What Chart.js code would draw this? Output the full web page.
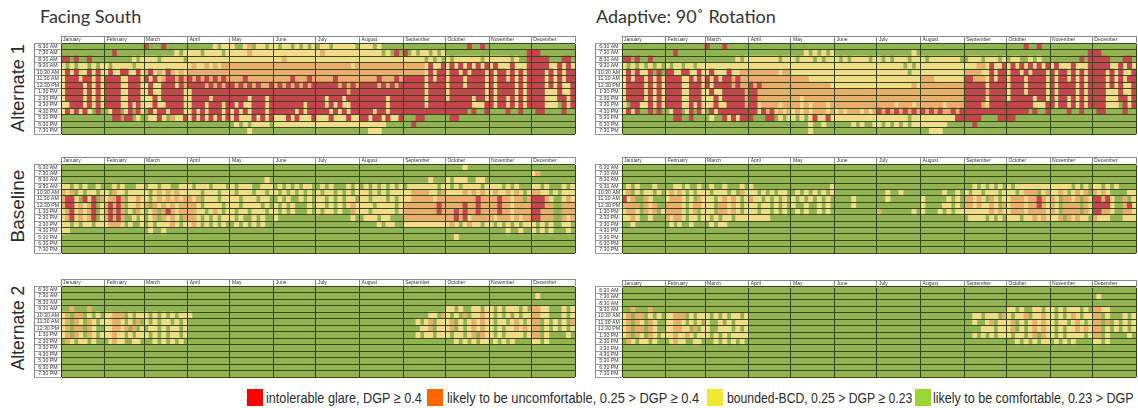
<!DOCTYPE html>
<html><head><meta charset="utf-8">
<style>
html,body{margin:0;padding:0;background:#fff;width:1138px;height:408px;overflow:hidden}
canvas{position:absolute;filter:blur(0.7px)}
.t{position:absolute;color:#333;white-space:nowrap;font-family:"Lato",sans-serif}
.title{font-size:18px;top:6px;line-height:20px}
.side{font-family:"Liberation Sans",Arial,sans-serif;line-height:20px;transform:translate(-50%,-50%) rotate(-90deg);color:#2a2a2a}
.sw{position:absolute;top:389px;width:16px;height:17px}
.leg{position:absolute;top:388px;line-height:19px;font-family:"Liberation Sans",sans-serif;font-size:15.5px;color:#2c2c2c;white-space:nowrap;transform-origin:left center}
</style></head><body>
<div class="t title" style="left:40px">Facing South</div>
<div class="t title" style="left:596px">Adaptive: 90˚ Rotation</div>
<div class="t side" style="left:18px;top:88px;font-size:18.2px">Alternate 1</div>
<div class="t side" style="left:18px;top:206px;font-size:19px">Baseline</div>
<div class="t side" style="left:18px;top:328px;font-size:17.5px">Alternate 2</div>
<div class="sw" style="left:247px;background:#ff0000"></div>
<div class="leg" data-w="156" style="left:266px">intolerable glare, DGP ≥ 0.4</div>
<div class="sw" style="left:427px;background:#ff6600"></div>
<div class="leg" data-w="252" style="left:447px">likely to be uncomfortable, 0.25 &gt; DGP ≥ 0.4</div>
<div class="sw" style="left:707px;background:#f0e832"></div>
<div class="leg" data-w="185" style="left:727px">bounded-BCD, 0.25 &gt; DGP ≥ 0.23</div>
<div class="sw" style="left:915px;background:#99d633"></div>
<div class="leg" data-w="201" style="left:933px">likely to be comfortable, 0.23 &gt; DGP</div>
<script src="https://cdn.jsdelivr.net/npm/chart.js@4/dist/chart.umd.min.js"></script>
<script>
const hours = ["6:30 AM","7:30 AM","8:30 AM","9:30 AM","10:30 AM","11:30 AM","12:30 PM","1:30 PM","2:30 PM","3:30 PM","4:30 PM","5:30 PM","6:30 PM","7:30 PM"];
const months = ["January","February","March","April","May","June","July","August","September","October","November","December"];
const monthStarts = [0,31,59,90,120,151,181,212,243,273,304,334,365];
const classNames = ["likely comfortable","bounded-BCD","likely uncomfortable","intolerable glare"];
const classColors = ["#92b351","#f3dc86","#e9ae6c","#c5444d"];
// Each row: one 10-cell group per month; "-" is a month with no glare. 0 comfortable, 1 bounded, 2 uncomfortable, 3 intolerable.
const alt1South = [
"- - 3000300000 0000001011 1001201101 1011010101 0110111110 1110100000 - 0000030030 - -",
"- 0030000000 0000000101 1110111101 1111211111 1111111111 1211111111 1111101030 3010110101 - 0000000003 3300000000",
"3303003000 0000000101 1110111110 1111111111 1111111111 1121111111 1111111111 1111111111 1111101010 1011111101 1111101003 3333000330",
"1010110101 1011111011 1111111111 1211212122 2222222222 2222222222 2222222212 2222222222 2222213113 1313131313 1311131113 3333113131",
"1313113131 1311331131 2312132121 2222222222 2222222222 2222222222 2222222222 2222222222 2222213133 1331313331 3133131313 3331313133",
"1333133131 3333113331 3131233232 3232323232 2223222222 2222322232 2222322222 2222322232 3333313133 1333133331 3133131313 3331313133",
"1333313131 3333113331 1311333132 3333232323 3232323223 2323232323 3333323232 3333232323 3333313333 1333133331 3133331313 3331313113",
"1333313131 3333113331 1311333331 1333333333 3333333333 3333333333 3333333233 3333333333 3333313333 1333333331 3133331313 3331113113",
"1333313131 3333113331 1131333331 1333313333 3333133313 3333333333 3313331333 3333331333 3333313333 1333331331 3133131313 3331113313",
"1133313131 3333113131 1131133331 1333133313 3131133313 3333333133 3313131133 3333331333 3333313333 3333331113 3133131313 3331110313",
"1313131030 0133013031 0313313331 1313133313 1313133313 3333313133 3331313133 3331331333 3333333333 3333303003 0000300300 0330000300",
"- 0033033010 0113102113 1313131313 1311131313 1113131113 1113111311 3313313113 0003300000 0330000000 - -",
"- - - - 0101011110 1111111111 1111111111 1111110000 0030000000 - - -",
"- - - - 0000100000 - - 0011100000 - - - -"];
const alt1Adaptive = [
"- - 3000300000 - - - - - - 0000300300 - -",
"- 0030000000 - - 0001010101 - 0000000010 - - - 0000000003 3300000000",
"3303003000 - 0000000101 1111111011 1011101011 1010111101 1010111011 1011111110 0111011101 0110010100 0000000303 3333000330",
"1010101010 1011011011 1111111111 1111111111 1111111111 1111111111 1111110101 1111111111 1112213113 1313131313 1311131113 3333113131",
"1313113030 3311331131 1311131122 2222222122 1111111111 1111111111 1111111011 1111111111 2222113133 1331313331 3133131313 3331313113",
"1313313131 3333113131 3131332322 2222222222 2222111111 1111111111 1111111111 2221111111 3322213133 1333133331 3133131313 3331313133",
"1333313131 3333113331 3133332322 3232222222 2222222221 1111111111 1111111121 2222222222 3333313333 1333133331 3133331313 3331313113",
"1333313131 3333113331 1311333332 3322222222 2222222222 2222222222 2222222222 2222222222 3333323333 1333133331 3133331313 3331113113",
"1333313131 3333113331 1131333332 3322222222 2212222222 2222222222 2222222222 2222222222 3333313333 1333331331 3133131313 3331113313",
"1033113131 3333113131 1131133332 3312222122 2212122212 2222222222 2222122212 2222212222 3333213333 3333331113 3133131313 3331110313",
"1313003030 0133013031 0313333333 3313231212 1212122212 1212221212 3232323232 3232322323 3333333333 3333303003 0000300300 0330000300",
"- 0033003000 0100313133 3000330101 1010131131 1111111111 1111111011 1111111133 3333000033 3300000000 - -",
"- - - - 0000100100 0000101001 1010101011 1111110000 0030000000 - - -",
"- - - - 0000100000 - - 0011100000 - - - -"];
const baseSouth = [
"- - - - - - - - - 0000100000 - -",
"- - - - - - - - - - - 1200000000",
"- - - - 0000000010 - - - 0000001000 1011100110 - -",
"1101010010 0010100011 0110110011 1011101110 1011100111 0101010110 0101000101 0101010101 0111111101 1010111101 1110101000 1101000101",
"2120101101 1021101111 1012121211 1110111011 1011101101 1010101010 1011010101 1101010111 1122221102 1111212121 1211212101 2211010111",
"2331031302 1223201121 1012121212 2120111011 1101110110 0101001010 1101010110 1101110101 1122222122 2222222322 2232212202 3332100121",
"2331212301 2323201121 2021212122 2210111101 1101111010 1010100010 1101010121 1110111101 2222222232 2222322322 2232212222 3332200222",
"1231212301 2323201021 0120232122 2211012101 1011011101 1010100010 1011010021 1101111101 2222222232 2232322322 2232212222 3322200222",
"1231212301 2323200101 0120212102 2210101011 1010010100 1000000000 0000000010 0111011000 2222222222 2232312222 2122212122 3322200212",
"1101011011 1222101001 0101112101 1210101010 0101010100 - - 0000101100 1111111111 1210121101 1010101011 1010100110",
"1100000000 - 0100100000 - - - - - - - 0000100100 1010100010",
"- - - - - - - - - 0010000000 - -",
"","" ];
const baseAdaptive = [
"","","",
"0101000100 0011010010 0100100010 1000000000 0000000001 - - - 0010101010 1011111111 1111101010 1101010000",
"1201011010 1212101011 1011101021 1101010110 0101010101 - 0010010000 0000010010 1011011101 1101222012 1121012120 2121000011",
"3120021000 1222101021 1101212101 2110101010 1010101010 0000100000 0010000000 1000001010 2212102101 1222122321 2102212021 3323100201",
"2222021200 2222101221 1102212101 1101101010 1001001010 0000100000 - 1000011010 2212112102 1222122321 2102222021 3333100231",
"1221021201 2222101201 1102212101 1101101010 0101001010 - 2000000010 1000101011 1111112121 1222122221 2102222021 3322100221",
"1121001000 2122101101 1010110111 1111100000 - - - - 0111101010 1110112121 1120212110 2111000111",
"0010000000 0101001000 0101100000 - - - - - - - - -",
"","","","" ];
const alt2South = [
"",
"- - - - - - - - - - - 0100000000",
"",
"0020002000 - - - - - - - - 1101001101 1010111010 2211000101",
"1202201010 1122201011 1010101011 1000000000 - - - - 0000001102 1010201121 1010101011 2211000101",
"1202102101 1122101020 1010110101 - - - - - 0001012011 1201012121 1011012101 2201010102",
"1202202100 1122120201 0110101101 - - - - - 0000112011 1201012121 1010112121 2201010101",
"1202102101 1121101011 1010101101 - - - - - 0001011011 1011012021 1010111101 2201000010",
"0210110100 0121100110 0010101010 - - - - - - 0010101011 0101010000 1101000000",
"","","","","" ];
const alt2Adaptive = [
"",
"- - - - - - - - - - - 0100000000",
"",
"0020002000 - - - - - - - - 1101001101 1010111010 2211000000",
"1202201010 1122201011 1010101101 - - - - - 0011011102 1011201121 1010121011 2201000101",
"1202102100 1122101010 1001010111 - - - - - 0010012011 1201012121 1011012101 2202010101",
"1202202100 1122110201 1001110101 - - - - - 0000111011 1201012121 1010112121 2201010101",
"1202102101 1121121011 1010101111 - - - - - 0010101011 1011012021 1010111101 2201000010",
"0210110100 0121100110 0010101010 - - - - - - 0010101011 0101010000 1101000000",
"","","","","" ];

const panels = [
 {rows:alt1South,   left:34, top:36,  h:98},
 {rows:alt1Adaptive,left:594.5,top:36, h:98},
 {rows:baseSouth,   left:34, top:157, h:96},
 {rows:baseAdaptive,left:594.5,top:157,h:96},
 {rows:alt2South,   left:34, top:279, h:98},
 {rows:alt2Adaptive,left:594.5,top:280,h:97}
];

function buildDatasets(rows){
  const sets = classColors.map(()=>[]);
  hours.forEach((hour,r)=>{
    const groups = (rows[r]||"").trim().split(/\s+/);
    for(let m=0;m<12;m++){
      const g = groups[m] && groups[m]!=="-" ? groups[m] : "0000000000";
      const s = monthStarts[m], len = monthStarts[m+1]-s;
      let i=0;
      while(i<10){
        let j=i; while(j<10 && g[j]===g[i]) j++;
        const c=+g[i];
        if(c>0) sets[c].push({y:hour,x:[s+i*len/10,s+j*len/10]});
        i=j;
      }
    }
    sets[0].push({y:hour,x:[0,365]});
  });
  return [3,2,1,0].map(c=>({label:classNames[c],data:sets[c],backgroundColor:classColors[c],
    grouped:false,barPercentage:1,categoryPercentage:1,borderWidth:0}));
}
const frame = {id:'frame',afterDraw(ch){
  const {ctx,scales:{x,y}}=ch; ctx.save(); ctx.strokeStyle='#8a8a8a'; ctx.lineWidth=1;
  ctx.beginPath();
  ctx.moveTo(x.left,0.5); ctx.lineTo(x.right,0.5);
  ctx.moveTo(y.left+0.5,y.top); ctx.lineTo(y.left+0.5,y.bottom);
  ctx.stroke(); ctx.restore();
}};
panels.forEach(p=>{
  const c=document.createElement('canvas');
  c.width=542; c.height=p.h+1;
  c.style.left=p.left+'px'; c.style.top=p.top+'px';
  document.body.appendChild(c);
  new Chart(c,{type:'bar',
    data:{labels:hours,datasets:buildDatasets(p.rows)},
    plugins:[frame],
    options:{indexAxis:'y',responsive:false,animation:false,devicePixelRatio:1,
      layout:{padding:{left:0,right:1,top:0,bottom:1}},
      plugins:{legend:{display:false},tooltip:{enabled:false}},
      scales:{
        x:{type:'linear',position:'top',min:0,max:365,
          afterBuildTicks(s){s.ticks=monthStarts.map(v=>({value:v}));},
          afterFit(s){s.height=7;},
          grid:{z:1,color:'#2f4612',tickColor:'#8a8a8a',tickLength:7,lineWidth:1},
          border:{color:'#8a8a8a'},
          ticks:{autoSkip:false,maxRotation:0,align:'start',labelOffset:2,padding:-6.5,
            font:{family:'"Liberation Sans"',size:5},color:'#333',
            callback:(v,i)=>months[i]||''}
        },
        y:{type:'category',position:'left',offset:true,
          afterFit(s){s.width=27;},
          grid:{z:1,offset:true,color:'#34491a',tickColor:'#9a9a9a',tickLength:27,lineWidth:1},
          border:{color:'#34491a'},
          ticks:{autoSkip:false,padding:-25,crossAlign:'center',font:{family:'"Liberation Sans"',size:5.2},color:'#333'}
        }
      }
    }
  });
});
document.querySelectorAll('.leg').forEach(el=>{
  el.style.transform='scaleX('+(+el.dataset.w/el.offsetWidth)+')';
});
</script>
</body></html>
